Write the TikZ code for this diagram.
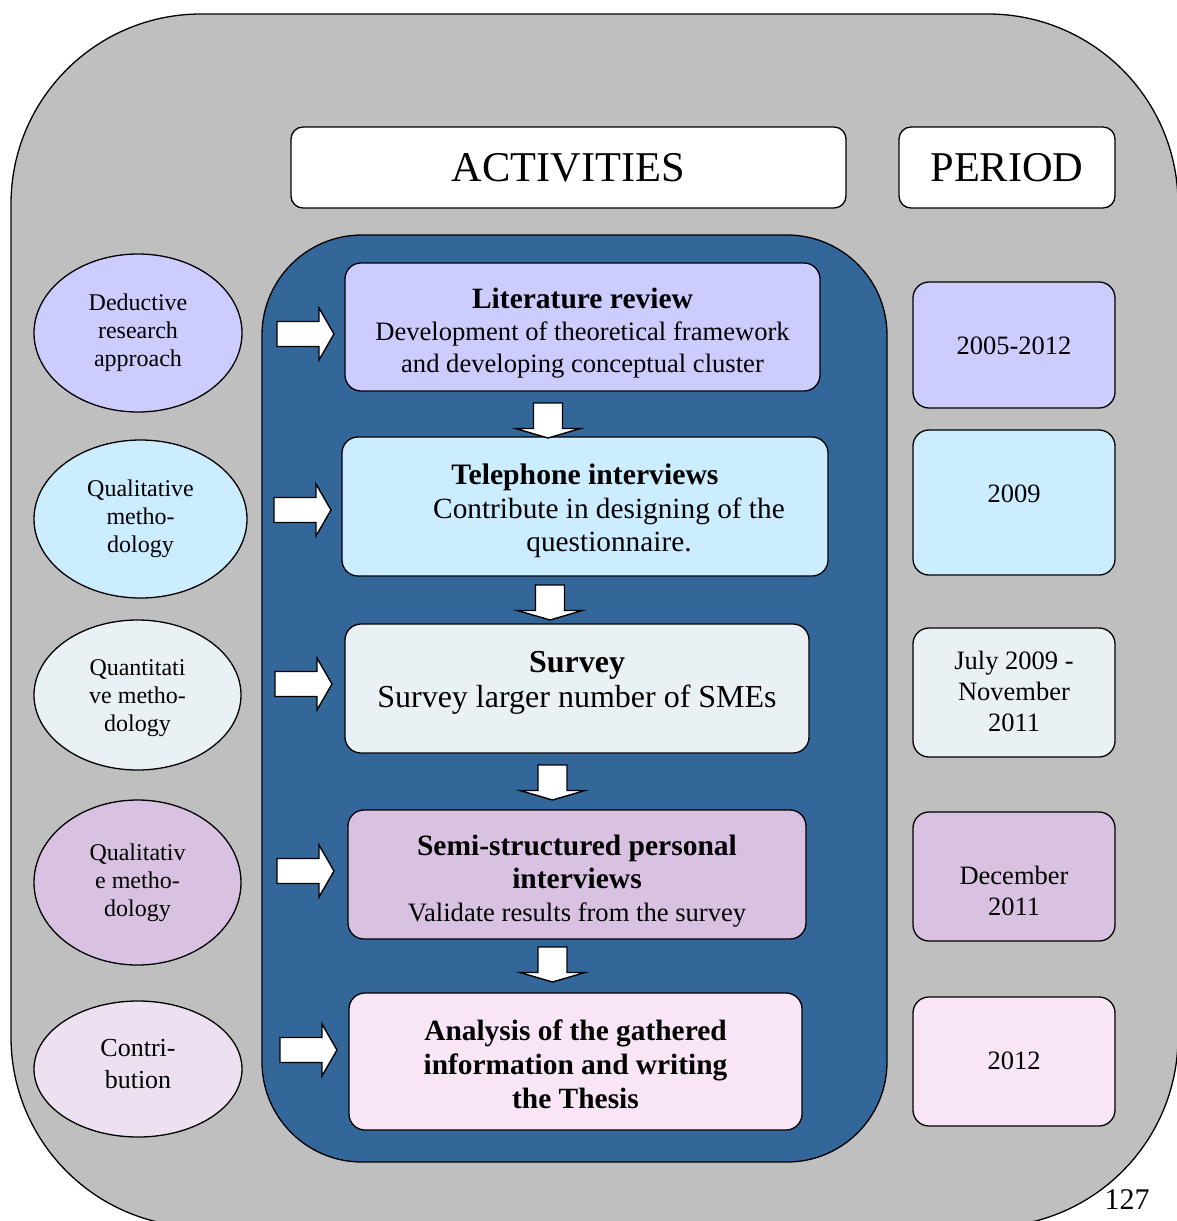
\documentclass[tikz,border=0pt]{standalone}
\usepackage{fontspec}
\setmainfont{Liberation Serif}
\usetikzlibrary{shapes.geometric}

\definecolor{panel}{RGB}{191,191,191}
\definecolor{core}{RGB}{51,102,153}
\definecolor{tintA}{RGB}{204,204,255}
\definecolor{tintB}{RGB}{204,236,255}
\definecolor{tintC}{RGB}{234,241,245}
\definecolor{tintD}{RGB}{216,193,225}
\definecolor{tintE}{RGB}{248,230,247}
\definecolor{tintF}{RGB}{237,224,241}

\newcommand\fsz[2]{\fontsize{#1}{#2}\selectfont}

\tikzset{
  outline/.style={draw=black, line width=1.3pt},
  header/.style={outline, fill=white, rounded corners=12pt, inner sep=0pt,
    minimum height=81pt, font=\fsz{42.4}{48}},
  activity/.style={outline, rounded corners=16pt, inner sep=0pt},
  label/.style={align=center, inner sep=0pt},
  periodbox/.style={outline, rounded corners=16pt, minimum width=202pt},
  periodtext/.style={label, font=\fsz{26.5}{31}},
  method/.style={outline, ellipse, inner sep=0pt},
  methodtext/.style={label, font=\fsz{24}{28}},
  blockarrow/.style={draw=black, line width=1.4pt, fill=white, line join=miter},
  rarrow/.pic={\path[blockarrow] (-57,-12.5) -- (-15,-12.5) -- (-15,-26) -- (0,0)
      -- (-15,26) -- (-15,12.5) -- (-57,12.5) -- cycle;},
  darrow/.pic={\path[blockarrow] (-14.5,-35) -- (14.5,-35) -- (14.5,-9.5) -- (32.5,-9.5)
      -- (0,0) -- (-32.5,-9.5) -- (-14.5,-9.5) -- cycle;}
}

\begin{document}
\begin{tikzpicture}[x=1pt,y=-1pt]
\useasboundingbox (0,0) rectangle (1177,1221);
\clip (0,0) rectangle (1177,1221);

% outer grey panel and the blue activity column
\path[outline, fill=panel, rounded corners=190pt] (11,14) rectangle (1178,1227);
\path[outline, fill=core, rounded corners=100pt] (262,235) rectangle (887,1162);

% column headers
\node[header, minimum width=555pt] (acthead) at (568.5,167.5) {ACTIVITIES};
\node[header, minimum width=216pt] (perhead) at (1007,167.5) {PERIOD};

% activities
\node[activity, fill=tintA, minimum width=475pt, minimum height=128pt] (a1) at (582.5,327) {};
\node[activity, fill=tintB, minimum width=486pt, minimum height=139pt] (a2) at (585,506.5) {};
\node[activity, fill=tintC, minimum width=464pt, minimum height=129pt] (a3) at (577,688.5) {};
\node[activity, fill=tintD, minimum width=458pt, minimum height=129pt] (a4) at (577,874.5) {};
\node[activity, fill=tintE, minimum width=453pt, minimum height=137pt] (a5) at (575.5,1061.5) {};

\node[label, font=\fsz{26.6}{32}] (a1t) at (582.5,333)
  {{\fsz{29.5}{32}\bfseries Literature review}\\
   Development of theoretical framework\\
   and developing conceptual cluster};
\node[label, font=\fsz{29.3}{33.5}] (a2t) at (585,511)
  {{\fsz{29.7}{33.5}\bfseries Telephone interviews}\\
   \hspace*{48pt}Contribute in designing of the\\
   \hspace*{48pt}questionnaire.};
\node[label, font=\fsz{32}{35}] (a3t) at (577,682.5)
  {{\bfseries Survey}\\
   Survey larger number of SMEs};
\node[label, font=\fsz{29.5}{33}] (a4t) at (577,881)
  {{\bfseries Semi-structured personal}\\
   {\bfseries interviews}\\
   {\fsz{26.6}{33}Validate results from the survey}};
\node[label, font=\fsz{29.4}{34}\bfseries] (a5t) at (575.5,1064)
  {Analysis of the gathered\\
   information and writing\\
   the Thesis};

% periods
\node[periodbox, fill=tintA, minimum height=126pt] (p1) at (1014,345) {};
\node[periodbox, fill=tintB, minimum height=145pt] (p2) at (1014,502.5) {};
\node[periodbox, fill=tintC, minimum height=129pt] (p3) at (1014,692.5) {};
\node[periodbox, fill=tintD, minimum height=129pt] (p4) at (1014,876.5) {};
\node[periodbox, fill=tintE, minimum height=129pt] (p5) at (1014,1061.5) {};
\node[periodtext] (p1t) at (1014,346) {2005-2012};
\node[periodtext] (p2t) at (1014,494) {2009};
\node[periodtext] (p3t) at (1014,691.5) {July 2009 -\\November\\2011};
\node[periodtext] (p4t) at (1014,891) {December\\2011};
\node[periodtext] (p5t) at (1014,1061) {2012};

% research approach per activity
\node[method, fill=tintA, minimum width=208pt, minimum height=158pt] (m1) at (138,333) {};
\node[method, fill=tintB, minimum width=213pt, minimum height=158pt] (m2) at (140.5,519) {};
\node[method, fill=tintC, minimum width=207pt, minimum height=150pt] (m3) at (137.5,695) {};
\node[method, fill=tintD, minimum width=207pt, minimum height=165pt] (m4) at (137.5,882.5) {};
\node[method, fill=tintF, minimum width=208pt, minimum height=136pt] (m5) at (138,1069) {};

\node[methodtext] (m1t) at (138,333) {Deductive\\research\\approach};
\node[methodtext] (m2t) at (140.5,519) {Qualitative\\metho-\\dology};
\node[methodtext] (m3t) at (137.5,698) {Quantitati\\ve metho-\\dology};
\node[methodtext] (m4t) at (137.5,882.5) {Qualitativ\\e metho-\\dology};
\node[methodtext, font=\fsz{26}{32}] (m5t) at (138,1064) {Contri-\\bution};

% block arrows into the activities
\pic at (334,334) {rarrow};
\pic at (331,510) {rarrow};
\pic at (332,684) {rarrow};
\pic at (334,871) {rarrow};
\pic at (337,1050) {rarrow};

% block arrows between consecutive activities
\pic at (548,438) {darrow};
\pic at (550,620) {darrow};
\pic at (552.5,800) {darrow};
\pic at (552.5,982) {darrow};

% page number
\node[font=\fsz{30}{34}, inner sep=0pt] (pageno) at (1127,1200) {127};
\end{tikzpicture}
\end{document}
